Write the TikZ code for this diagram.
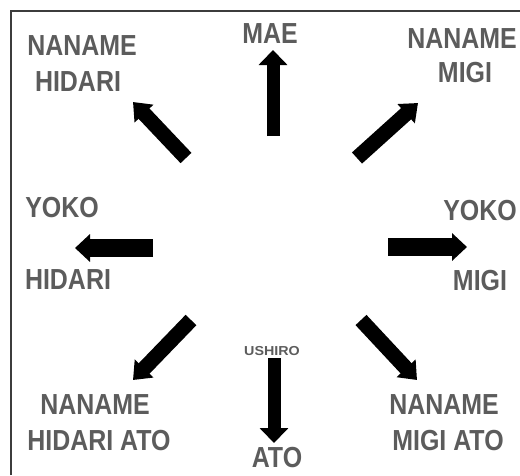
\documentclass[tikz,border=0pt]{standalone}
\usepackage{fontspec}
\setmainfont{Liberation Sans}[FakeStretch=0.86]
\newfontfamily\smallfont{Liberation Sans}[FakeStretch=1.1]
\usetikzlibrary{arrows.meta}
\definecolor{textgray}{RGB}{92,92,92}
\definecolor{framegray}{RGB}{60,60,60}
\tikzset{
  lbl/.style={anchor=base, inner sep=0pt, text=textgray, font=\fontsize{29}{32}\selectfont\bfseries},
  smalllbl/.style={anchor=base, inner sep=0pt, text=textgray, font=\smallfont\fontsize{13}{15}\selectfont\bfseries},
  varrow/.style={line width=13pt, -{Triangle[width=28pt,length=15pt]}},
  harrow/.style={line width=18pt, -{Triangle[width=27pt,length=15pt]}},
  darrow/.style={line width=15pt, -{Triangle[width=25pt,length=16pt]}},
  frameline/.style={draw=framegray, line width=1.2pt}
}
\begin{document}
\begin{tikzpicture}[x=1pt,y=-1pt]
\useasboundingbox (0,0) rectangle (520,475);
\fill[white] (0,0) rectangle (520,475);
\draw[frameline] (11,475) -- (11,11) -- (520,11);

% labels
\node[lbl] (tl1) at (82,55) {NANAME};
\node[lbl] (tl2) at (78,91) {HIDARI};
\node[lbl] (mae) at (270,43) {MAE};
\node[lbl] (tr1) at (462,48) {NANAME};
\node[lbl] (tr2) at (465,82) {MIGI};
\node[lbl] (yl) at (62,217) {YOKO};
\node[lbl] (yr) at (480,220) {YOKO};
\node[lbl] (hl) at (68,289) {HIDARI};
\node[lbl] (mr) at (480,290) {MIGI};
\node[lbl] (bl1) at (95,414) {NANAME};
\node[lbl] (bl2) at (99,450) {HIDARI ATO};
\node[smalllbl] (ushiro) at (272,355) {USHIRO};
\node[lbl] (ato) at (277,467) {ATO};
\node[lbl] (br1) at (444,414) {NANAME};
\node[lbl] (br2) at (448,450) {MIGI ATO};

% arrow end points
\coordinate (maeS) at (273,136);
\coordinate (maeE) at (273,50);
\coordinate (atoS) at (274,358);
\coordinate (atoE) at (274,443);
\coordinate (rS) at (388,247);
\coordinate (rE) at (467,247);
\coordinate (lS) at (153,248);
\coordinate (lE) at (75,248);
\coordinate (tlS) at (186,158);
\coordinate (tlE) at (133,102);
\coordinate (trS) at (357,158);
\coordinate (trE) at (418,103);
\coordinate (blS) at (191,320);
\coordinate (blE) at (133,380);
\coordinate (brS) at (361,320);
\coordinate (brE) at (417,380);

% arrows
\draw[varrow] (maeS) -- (maeE);
\draw[varrow] (atoS) -- (atoE);
\draw[harrow] (rS) -- (rE);
\draw[harrow] (lS) -- (lE);
\draw[darrow] (tlS) -- (tlE);
\draw[darrow] (trS) -- (trE);
\draw[darrow] (blS) -- (blE);
\draw[darrow] (brS) -- (brE);
\end{tikzpicture}
\end{document}
